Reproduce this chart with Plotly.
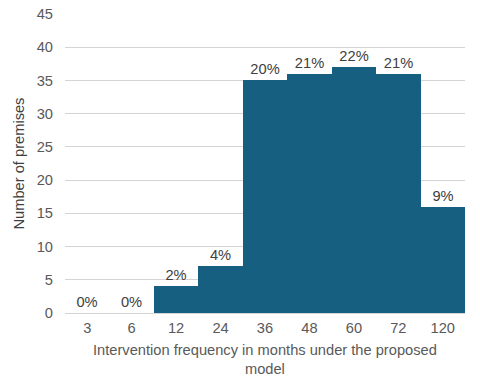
import plotly.graph_objects as go

categories = ["3", "6", "12", "24", "36", "48", "60", "72", "120"]
counts = [0, 0, 4, 7, 35, 36, 37, 36, 16]
pct_labels = ["0%", "0%", "2%", "4%", "20%", "21%", "22%", "21%", "9%"]
y_ticks = [0, 5, 10, 15, 20, 25, 30, 35, 40, 45]
x_title = "Intervention frequency in months under the proposed<br>model"
y_title = "Number of premises"

FS = 14.67

fig = go.Figure(go.Bar(
    x=categories, y=counts, text=pct_labels, textposition="outside",
    marker=dict(color="#175F80", line=dict(width=0)),
    textfont=dict(family="Liberation Sans, Arial", size=FS, color="#404040"),
    cliponaxis=False, width=1.0, hoverinfo="skip",
))

fig.update_layout(
    width=480, height=391,
    margin=dict(l=65, r=15, t=14, b=78),
    plot_bgcolor="white", paper_bgcolor="white",
    bargap=0,
    showlegend=False,
    font=dict(family="Liberation Sans, Arial", size=FS, color="#595959"),
    xaxis=dict(type="category", automargin=False,
               showgrid=False, showline=False, ticks="", ticklabelstandoff=4,
               tickfont=dict(size=FS, color="#595959")),
    yaxis=dict(range=[0, 45], tickvals=y_ticks, automargin=False, showgrid=True, gridcolor="#D4D4D4", gridwidth=1,
               zeroline=True, zerolinecolor="#D4D4D4", zerolinewidth=1, layer="below traces",
               tickfont=dict(size=FS, color="#595959"), ticklabelstandoff=11),
    annotations=[
        dict(text=x_title, xref="paper", yref="paper", x=0.5, y=0, xanchor="center", yanchor="top",
             yshift=-27, showarrow=False, font=dict(size=FS, color="#595959")),
        dict(text=y_title, xref="paper", yref="paper", x=0, y=0.5, xanchor="center", yanchor="middle",
             xshift=-47, textangle=-90, showarrow=False, font=dict(size=FS, color="#404040")),
    ],
)

fig.write_html("out.html", config={"displayModeBar": False},
               post_script="document.body.style.margin='0';")
